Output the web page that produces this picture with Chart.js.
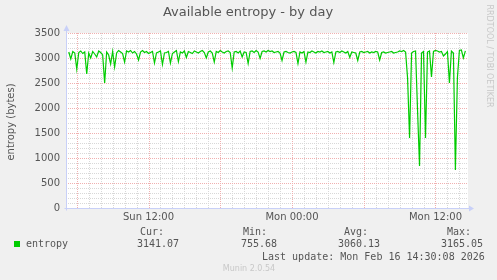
<!DOCTYPE html>
<html>
<head>
<meta charset="utf-8">
<script src="https://cdn.jsdelivr.net/npm/chart.js@4.4.1/dist/chart.umd.min.js"></script>
<style>
  html, body { margin: 0; padding: 0; background: #f0f0f0; }
  canvas { display: block; }
</style>
</head>
<body>
<canvas id="entropyChart" width="497" height="280"></canvas>
<script>
// samples every 10 minutes, last one at Mon 14:30 (hours relative to Mon 00:00)
var lastSample = 14.5;
var sampleStep = 1 / 6;
var entropy = [
  3120, 2980, 3130, 3100, 2780, 3110, 3140, 3090, 3120, 2680,
  3100, 3000, 3130, 3080, 3020, 3140, 3110, 3060, 2500, 3120,
  3060, 2880, 3130, 2820, 3100, 3150, 3120, 3090, 2920, 3140,
  3120, 3150, 3100, 3130, 3080, 2960, 3120, 3150, 3110, 3130,
  3090, 3110, 3130, 2900, 3100, 3120, 3140, 2870, 3100, 3110,
  3130, 2900, 3090, 3120, 3150, 2930, 3120, 3100, 3140, 3010,
  3130, 3110, 3090, 3140, 3120, 3100, 3130, 3150, 3110, 3000,
  3120, 3140, 3100, 2920, 3130, 3110, 3150, 3120, 3100, 3130,
  3140, 3110, 2800, 3120, 3130, 3100, 3140, 3020, 3120, 3110,
  2890, 3130, 3140, 3110, 3150, 3120, 2990, 3130, 3140, 3120,
  3150, 3130, 3140, 3110, 3120, 3130, 3100, 2950, 3120, 3130,
  3110, 3100, 3120, 3130, 3110, 2890, 3120, 3100, 3130, 2920,
  3120, 3110, 3140, 3120, 3100, 3130, 3120, 3140, 3110, 3120,
  3130, 3100, 3120, 2910, 3120, 3130, 3110, 3140, 3120, 3100,
  3130, 3010, 3120, 3110, 3100, 2950, 3120, 3130, 3110, 3120,
  3130, 3100, 3120, 3110, 3130, 3120, 2960, 3110, 3120, 3100,
  3110, 3120, 3130, 3100, 3110, 3120, 3140, 3130, 3150, 3120,
  2600, 1400, 3100, 3130, 3140, 1960, 840, 3100, 3130, 1400,
  3120, 3140, 2620, 3130, 3150, 3140, 3120, 3130, 3040, 3080,
  3130, 2500, 3140, 3100, 760, 2600, 3150, 3160, 3000, 3141.07
];

var xTickHours = [-12, 0, 12];
var xTickLabels = ['Sun 12:00', 'Mon 00:00', 'Mon 12:00'];
var yTicks = [0, 500, 1000, 1500, 2000, 2500, 3000, 3500];

var statNames = ['Cur:', 'Min:', 'Avg:', 'Max:'];
var statValues = ['3141.07', '755.68', '3060.13', '3165.05'];

var points = entropy.map(function(v, i) {
  return { x: lastSample - (entropy.length - 1 - i) * sampleStep, y: v };
});

var muninDecor = {
  id: 'muninDecor',
  beforeDatasetsDraw: function(chart) {
    var c = chart.ctx, a = chart.chartArea;
    var xs = chart.scales.x, ys = chart.scales.y;
    c.save();
    c.fillStyle = '#ffffff';
    c.fillRect(a.left, a.top, a.right - a.left, a.bottom - a.top);
    c.lineWidth = 1;
    c.setLineDash([1, 1]);
    // minor grid first, major on top
    var pass, h, px, v, py;
    for (pass = 0; pass < 2; pass++) {
      c.strokeStyle = pass ? '#f0b0b0' : '#d8d8d8';
      for (h = -18; h <= 14; h++) {
        if ((h % 6 === 0) !== (pass === 1)) continue;
        px = Math.round(xs.getPixelForValue(h)) + 0.5;
        c.beginPath(); c.moveTo(px, a.top); c.lineTo(px, a.bottom); c.stroke();
      }
      for (v = 100; v <= 3500; v += 100) {
        if ((v % 500 === 0) !== (pass === 1)) continue;
        py = Math.round(ys.getPixelForValue(v)) + 0.5;
        c.beginPath(); c.moveTo(a.left, py); c.lineTo(a.right, py); c.stroke();
      }
    }
    c.restore();
  },
  afterDraw: function(chart) {
    var c = chart.ctx, a = chart.chartArea;
    var xs = chart.scales.x, ys = chart.scales.y;
    c.save();
    // axes with arrows
    var ax = Math.round(a.left) + 0.5, ay = Math.round(a.bottom) + 0.5;
    c.strokeStyle = '#c8d0f8';
    c.fillStyle = '#c8d0f8';
    c.lineWidth = 1;
    c.beginPath(); c.moveTo(ax, ay + 2); c.lineTo(ax, a.top - 5); c.stroke();
    c.beginPath(); c.moveTo(ax - 2, ay); c.lineTo(a.right + 2, ay); c.stroke();
    c.beginPath(); c.moveTo(ax - 3, a.top - 2); c.lineTo(ax, a.top - 8); c.lineTo(ax + 3, a.top - 2); c.fill();
    c.beginPath(); c.moveTo(a.right + 1, ay - 3); c.lineTo(a.right + 6, ay); c.lineTo(a.right + 1, ay + 3); c.fill();

    c.fillStyle = '#555555';
    c.textBaseline = 'middle';
    // title
    c.font = '13px "DejaVu Sans"';
    c.textAlign = 'center';
    c.fillText('Available entropy - by day', 248, 13);
    // y ticks
    c.font = '10px "DejaVu Sans"';
    c.textAlign = 'right';
    yTicks.forEach(function(t) {
      c.fillText(String(t), 60, ys.getPixelForValue(t));
    });
    // x ticks
    c.textAlign = 'center';
    xTickHours.forEach(function(h, i) {
      c.fillText(xTickLabels[i], xs.getPixelForValue(h), 217);
    });
    // y title
    c.save();
    c.translate(11, 122);
    c.rotate(-Math.PI / 2);
    c.fillText('entropy (bytes)', 0, 0);
    c.restore();
    // rrdtool credit
    c.save();
    c.fillStyle = '#c8c8c8';
    c.font = '8px "DejaVu Sans"';
    c.translate(489, 56);
    c.rotate(Math.PI / 2);
    c.fillText('RRDTOOL / TOBI OETIKER', 0, 0);
    c.restore();
    // legend
    c.fillStyle = '#00cc00';
    c.fillRect(14, 241, 6, 6);
    c.fillStyle = '#555555';
    c.font = '10px "DejaVu Sans Mono"';
    c.textAlign = 'left';
    c.fillText('entropy', 26, 244);
    var nameX = [140, 243, 344, 447], valX = [137, 241, 338, 441];
    statNames.forEach(function(n, i) {
      c.fillText(n, nameX[i], 232);
      c.fillText(statValues[i], valX[i], 244);
    });
    c.fillText('Last update: Mon Feb 16 14:30:08 2026', 262, 257);
    c.fillStyle = '#c8c8c8';
    c.font = '8px "DejaVu Sans"';
    c.textAlign = 'center';
    c.fillText('Munin 2.0.54', 249, 269);
    c.restore();
  }
};

var ctx = document.getElementById('entropyChart').getContext('2d');
var entropyChart = new Chart(ctx, {
  type: 'line',
  data: {
    datasets: [{
      label: 'entropy',
      data: points,
      borderColor: '#00cc00',
      borderWidth: 1.2,
      pointRadius: 0,
      tension: 0
    }]
  },
  options: {
    responsive: false,
    animation: false,
    devicePixelRatio: 1,
    layout: { padding: { left: 66, top: 33, right: 29, bottom: 72 } },
    plugins: { legend: { display: false }, tooltip: { enabled: false } },
    scales: {
      x: { type: 'linear', min: -18.9, max: 14.72, display: false },
      y: { min: 0, max: 3500, display: false }
    }
  },
  plugins: [muninDecor]
});
</script>
</body>
</html>
